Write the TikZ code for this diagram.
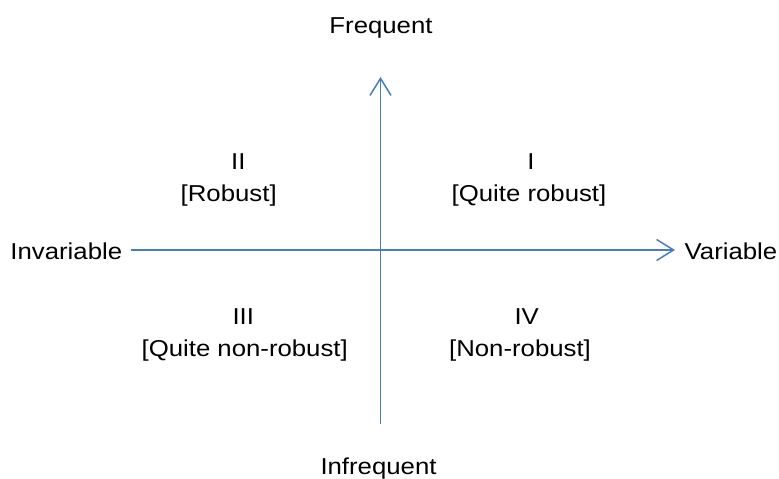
\documentclass[tikz,border=0pt]{standalone}
\usepackage{fontspec}
\setmainfont{Liberation Sans}[FakeStretch=1.12]
\usetikzlibrary{arrows.meta}
\definecolor{axisblue}{HTML}{4A7EBB}
\tikzset{
  axis/.style={draw=axisblue, line width=1.8pt,
    -{Straight Barb[length=17pt,width=21pt,line width=1.5pt]}},
  lbl/.style={anchor=base, inner sep=0pt, text=black,
    font=\fontsize{23}{28}\selectfont}
}
\begin{document}
\begin{tikzpicture}[x=1pt,y=1pt]
\useasboundingbox (0,0) rectangle (779,479);
% axis end points
\coordinate (bottom) at (380.5,55);
\coordinate (top) at (380.5,402);
\coordinate (left) at (131,229);
\coordinate (right) at (675,229);
\draw[axis] (bottom) -- (top);
\draw[axis] (left) -- (right);
% axis labels
\node[lbl] (freq) at (381,445.7) {Frequent};
\node[lbl] (infreq) at (378.5,4) {Infrequent};
\node[lbl] (inv) at (66.3,219) {Invariable};
\node[lbl] (var) at (731,219) {Variable};
% quadrant labels
\node[lbl] (q1) at (531,309.7) {I};
\node[lbl] (q1b) at (529,277.5) {[Quite robust]};
\node[lbl] (q2) at (238.3,309.7) {II};
\node[lbl] (q2b) at (228.7,277.5) {[Robust]};
\node[lbl] (q3) at (243.3,154.7) {III};
\node[lbl] (q3b) at (244.7,122.3) {[Quite non-robust]};
\node[lbl] (q4) at (526.7,154.7) {IV};
\node[lbl] (q4b) at (520,122.3) {[Non-robust]};
\end{tikzpicture}
\end{document}
